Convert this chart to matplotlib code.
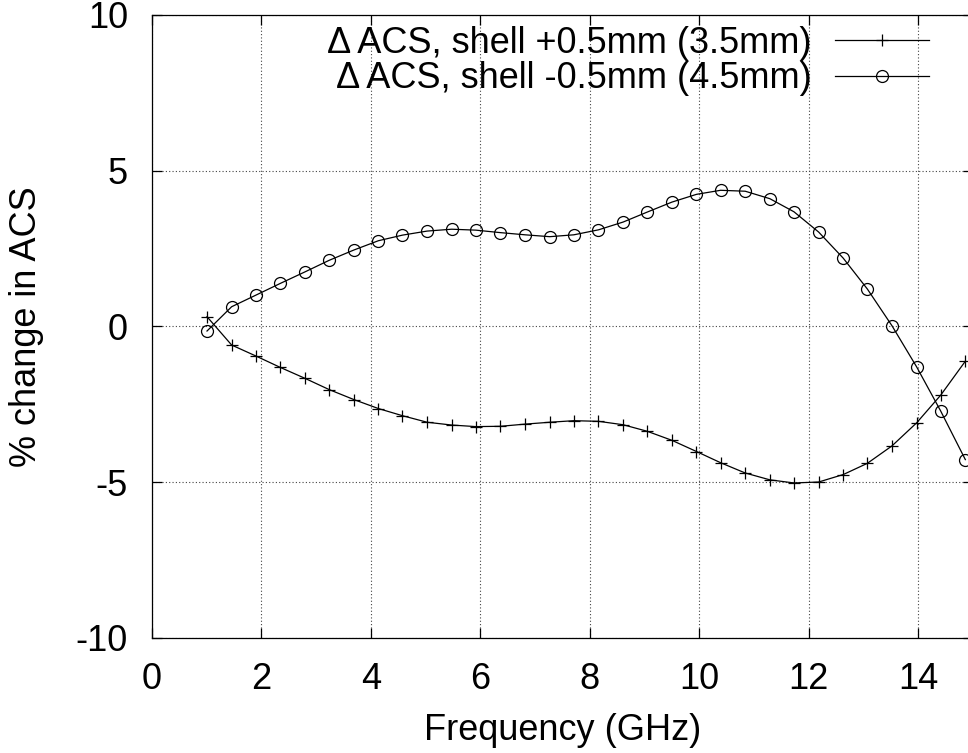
import matplotlib
matplotlib.use("Agg")
import matplotlib.pyplot as plt

plt.rcParams['font.family'] = ['Liberation Sans', 'DejaVu Sans']
plt.rcParams['axes.unicode_minus'] = False

freq = [1.01, 1.46, 1.90, 2.35, 2.80, 3.24, 3.69, 4.14, 4.58, 5.03, 5.48,
        5.92, 6.37, 6.82, 7.27, 7.71, 8.16, 8.61, 9.05, 9.50, 9.95, 10.39,
        10.84, 11.29, 11.73, 12.18, 12.63, 13.07, 13.52, 13.97, 14.41, 14.86]

acs_plus = [0.31, -0.60, -0.95, -1.32, -1.67, -2.03, -2.35, -2.64, -2.87, -3.08,
            -3.17, -3.22, -3.21, -3.14, -3.08, -3.03, -3.05, -3.16, -3.37, -3.66,
            -4.02, -4.38, -4.71, -4.93, -5.03, -5.00, -4.76, -4.40, -3.84, -3.10,
            -2.21, -1.12]

acs_minus = [-0.15, 0.63, 1.00, 1.38, 1.75, 2.12, 2.45, 2.75, 2.93, 3.06,
             3.12, 3.09, 3.01, 2.94, 2.88, 2.94, 3.10, 3.35, 3.67, 3.99,
             4.24, 4.37, 4.34, 4.10, 3.68, 3.03, 2.19, 1.20, 0.02, -1.30,
             -2.72, -4.28]

labels = ["Δ ACS, shell +0.5mm (3.5mm)", "Δ ACS, shell -0.5mm (4.5mm)"]
xticks = [0, 2, 4, 6, 8, 10, 12, 14]
yticks = [-10, -5, 0, 5, 10]

W, H = 968, 753
fig = plt.figure(figsize=(W / 100, H / 100), dpi=100)
left, right, top, bottom = 151.7, 973.0, 15.0, 637.7
ax = fig.add_axes([left / W, 1 - bottom / H, (right - left) / W, (bottom - top) / H])

fs = 26
ax.plot(freq, acs_plus, color='black', lw=0.9, marker='+', ms=9, mew=0.9,
        label=labels[0])
ax.plot(freq, acs_minus, color='black', lw=0.9, marker='o', ms=8.6, mew=0.9,
        mfc='none', label=labels[1])

ax.set_xlim(0, 15)
ax.set_ylim(-10, 10)
ax.set_xticks(xticks)
ax.set_yticks(yticks)
ax.tick_params(direction='in', length=7, width=0.9, labelsize=fs,
               top=True, right=True)
ax.tick_params(axis='x', pad=17.5)
ax.tick_params(axis='y', pad=17)
ax.grid(True, color='#444444', linestyle=(0, (1, 2)), lw=0.8)
for s in ax.spines.values():
    s.set_linewidth(0.9)

ax.set_xlabel("Frequency (GHz)", fontsize=fs)
ax.set_ylabel("% change in ACS", fontsize=fs)
ax.xaxis.set_label_coords(0.5, -0.121)
ax.yaxis.set_label_coords(-0.131, 0.5)

leg = ax.legend(loc='upper right', bbox_to_anchor=(0.946, 0.983),
                frameon=False, fontsize=fs, markerfirst=False,
                borderpad=0, borderaxespad=0, handlelength=2.58,
                handletextpad=0.67, labelspacing=0.02)

fig.savefig("out.png", dpi=100)
